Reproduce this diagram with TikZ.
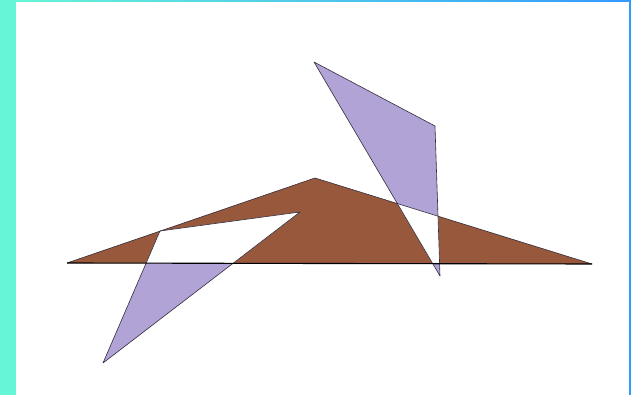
\documentclass[tikz,border=0pt]{standalone}
\definecolor{brownfill}{RGB}{152,88,60}
\definecolor{lilac}{RGB}{178,163,214}
\definecolor{aqua}{RGB}{102,245,214}
\definecolor{bluebar}{RGB}{51,153,255}
\definecolor{edgegray}{RGB}{50,45,60}
\tikzset{edge/.style={draw=edgegray,line width=0.6pt,line join=round}}
\begin{document}
\begin{tikzpicture}[x=1pt,y=-1pt]
\useasboundingbox (0,0) rectangle (631,395);
\fill[white] (0,0) rectangle (631,395);
% borders
\fill[aqua] (0,0) rectangle (16,395);
\shade[left color=aqua,right color=bluebar] (16,0) rectangle (631,1.2);
\fill[bluebar] (629,0) rectangle (631,395);
% coordinates
\coordinate (bl) at (67,263);
\coordinate (bt) at (315,178);
\coordinate (br) at (592,264);
\coordinate (la) at (103,363);
\coordinate (lb) at (160,231);
\coordinate (lc) at (300,212);
\coordinate (ra) at (314,62);
\coordinate (rb) at (435,126);
\coordinate (rc) at (440,276);
% fills
\fill[brownfill] (bl) -- (bt) -- (br) -- cycle;
\fill[lilac] (la) -- (lb) -- (lc) -- cycle;
\fill[lilac] (ra) -- (rb) -- (rc) -- cycle;
\begin{scope}
\clip (bl) -- (bt) -- (br) -- cycle;
\fill[white] (la) -- (lb) -- (lc) -- cycle;
\fill[white] (ra) -- (rb) -- (rc) -- cycle;
\end{scope}
% outlines
\draw[edge] (bl) -- (bt) -- (br);
\draw[edge] (la) -- (lb) -- (lc) -- cycle;
\draw[edge] (ra) -- (rb) -- (rc) -- cycle;
\draw[black,line width=1.1pt] (bl) -- (br);
\end{tikzpicture}
\end{document}
